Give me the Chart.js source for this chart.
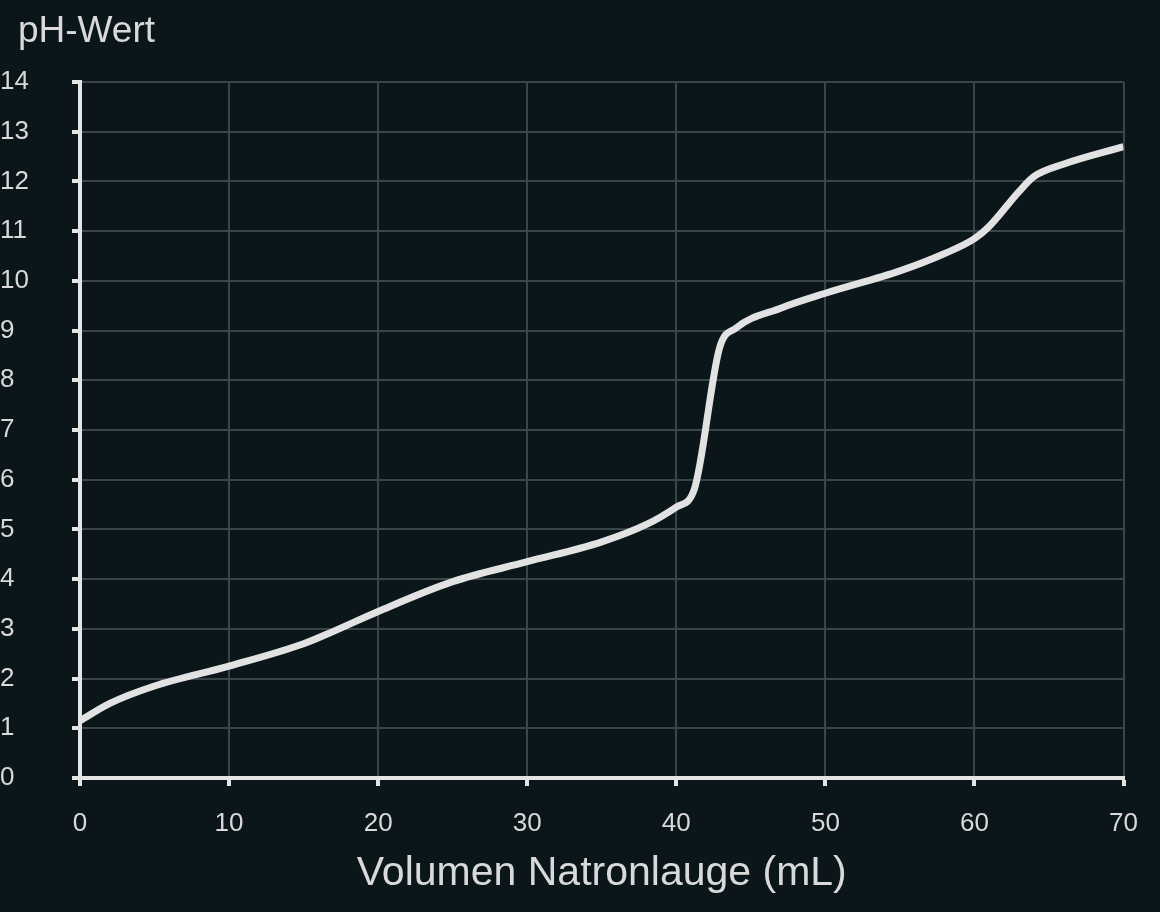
<!DOCTYPE html>
<html>
<head>
<meta charset="utf-8">
<script src="https://cdn.jsdelivr.net/npm/chart.js@4"></script>
<style>
  html, body { margin: 0; background: #0b161a; }
  #wrap { width: 1160px; height: 912px; }
</style>
</head>
<body>
<div id="wrap"><canvas id="chart"></canvas></div>
<script>
// Titration curve
const volume = [0, 2, 5, 10, 15, 17, 20, 25, 30, 35, 38, 40, 41.2, 42.9, 44, 47, 50, 55, 58, 60, 61, 63, 64, 66, 70];
const ph = [1.15, 1.5, 1.85, 2.25, 2.7, 2.95, 3.35, 3.95, 4.35, 4.75, 5.1, 5.45, 5.8, 8.65, 9.05, 9.45, 9.75, 10.2, 10.55, 10.85, 11.1, 11.8, 12.1, 12.35, 12.7];
const yTitle = 'pH-Wert';
const xTitle = 'Volumen Natronlauge (mL)';

const textColor = '#d9d9d9';
const gridColor = '#3a4549';
const axisColor = '#e4e4e4';

// Axis titles drawn at fixed spots like the original
const titles = {
    id: 'titles',
    afterDraw(chart) {
        const c = chart.ctx;
        c.save();
        c.fillStyle = textColor;
        c.font = '37px "Liberation Sans", Arial, sans-serif';
        c.textBaseline = 'middle';
        c.textAlign = 'left';
        c.fillText(yTitle, 18, 32);
        c.font = '41px "Liberation Sans", Arial, sans-serif';
        c.textAlign = 'center';
        c.fillText(xTitle, (chart.chartArea.left + chart.chartArea.right) / 2, 874);
        c.restore();
    }
};

new Chart(document.getElementById('chart'), {
    type: 'line',
    data: {
        datasets: [{
            data: volume.map((v, i) => ({ x: v, y: ph[i] })),
            borderColor: '#e2e2e2',
            borderWidth: 7,
            pointRadius: 0,
            cubicInterpolationMode: 'monotone',
            fill: false
        }]
    },
    options: {
        responsive: true,
        maintainAspectRatio: false,
        animation: false,
        layout: { padding: { left: 0, right: 28, top: 82, bottom: 0 } },
        plugins: { legend: { display: false }, tooltip: { enabled: false } },
        scales: {
            x: {
                type: 'linear', min: 0, max: 70,
                ticks: { stepSize: 10, color: textColor, font: { size: 26, family: '"Liberation Sans", Arial' }, padding: 22 },
                grid: { color: gridColor, lineWidth: 2, tickColor: axisColor, tickWidth: 4, tickLength: 8 },
                border: { color: axisColor, width: 4 },
                afterFit(s) { s.height = 134; }
            },
            y: {
                min: 0, max: 14,
                ticks: { stepSize: 1, color: textColor, font: { size: 26, family: '"Liberation Sans", Arial' }, padding: 10, crossAlign: 'far' },
                grid: { color: gridColor, lineWidth: 2, tickColor: axisColor, tickWidth: 4, tickLength: 8 },
                border: { color: axisColor, width: 4 },
                afterFit(s) { s.width = 80; }
            }
        }
    },
    plugins: [titles]
});
</script>
</body>
</html>
